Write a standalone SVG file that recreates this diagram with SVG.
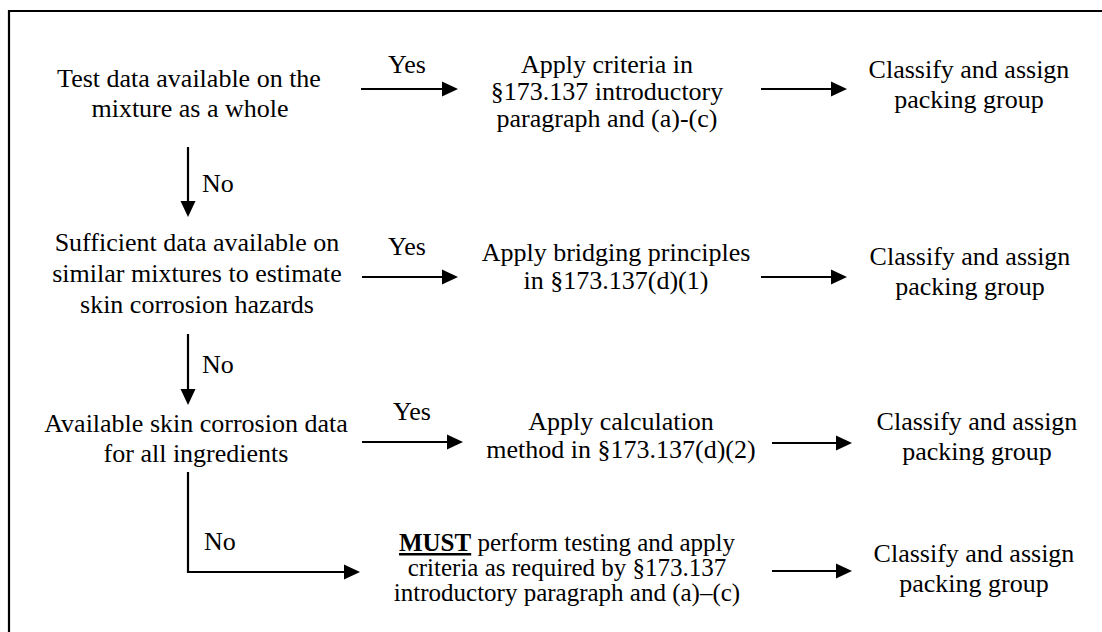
<svg xmlns="http://www.w3.org/2000/svg" width="1102" height="632" viewBox="0 0 1102 632">
<defs>
<style>
text{font-family:"Liberation Serif","Times New Roman",serif;font-size:26px;fill:#000;text-anchor:middle}
.sm{font-size:25px}
.st{text-anchor:start}
.c{fill:none;stroke:#000;stroke-width:2.2}
</style>
<marker id="ah" viewBox="0 0 16 16" markerWidth="16" markerHeight="16" refX="8" refY="8" orient="auto" markerUnits="userSpaceOnUse"><path d="M0,0.5 L16,8 L0,15.5 z" fill="#000"/></marker>
</defs>
<rect width="1102" height="632" fill="#fff"/>
<path d="M9 632 V11 H1102" fill="none" stroke="#000" stroke-width="2.2"/>

<g id="n1"><text x="189" y="87">Test data available on the</text><text x="190" y="117">mixture as a whole</text></g>
<g id="n2"><text x="607" y="73">Apply criteria in</text><text x="607" y="100">§173.137 introductory</text><text x="607" y="127">paragraph and (a)-(c)</text></g>
<g id="n3"><text x="969" y="78">Classify and assign</text><text x="969" y="108">packing group</text></g>

<g id="n4"><text x="197" y="251">Sufficient data available on</text><text x="197" y="282">similar mixtures to estimate</text><text x="197" y="313">skin corrosion hazards</text></g>
<g id="n5"><text x="616" y="261">Apply bridging principles</text><text x="616" y="289">in §173.137(d)(1)</text></g>
<g id="n6"><text x="970" y="265">Classify and assign</text><text x="970" y="295">packing group</text></g>

<g id="n7"><text x="196" y="432">Available skin corrosion data</text><text x="196" y="462">for all ingredients</text></g>
<g id="n8"><text x="621" y="430">Apply calculation</text><text x="621" y="458">method in §173.137(d)(2)</text></g>
<g id="n9"><text x="977" y="430">Classify and assign</text><text x="977" y="460">packing group</text></g>

<g id="n10"><text class="sm" x="567" y="551"><tspan font-weight="bold" text-decoration="underline">MUST</tspan> perform testing and apply</text><text class="sm" x="567" y="576">criteria as required by §173.137</text><text class="sm" x="567" y="601">introductory paragraph and (a)–(c)</text></g>
<g id="n11"><text x="974" y="562">Classify and assign</text><text x="974" y="592">packing group</text></g>

<g id="connectors">
<path class="c" d="M361 89 H450" marker-end="url(#ah)"/>
<path class="c" d="M761 89 H839" marker-end="url(#ah)"/>
<path class="c" d="M362 277 H450" marker-end="url(#ah)"/>
<path class="c" d="M761 277 H839" marker-end="url(#ah)"/>
<path class="c" d="M362 442 H455" marker-end="url(#ah)"/>
<path class="c" d="M772 443 H844" marker-end="url(#ah)"/>
<path class="c" d="M772 571 H844" marker-end="url(#ah)"/>
<path class="c" d="M188 147 V209" marker-end="url(#ah)"/>
<path class="c" d="M188 334 V397" marker-end="url(#ah)"/>
<path class="c" d="M188 472 V572 H352" marker-end="url(#ah)"/>
<text x="407" y="73">Yes</text>
<text x="407" y="255">Yes</text>
<text x="412" y="420">Yes</text>
<text class="st" x="202" y="192">No</text>
<text class="st" x="202" y="373">No</text>
<text class="st" x="204" y="550">No</text>
</g>
</svg>
